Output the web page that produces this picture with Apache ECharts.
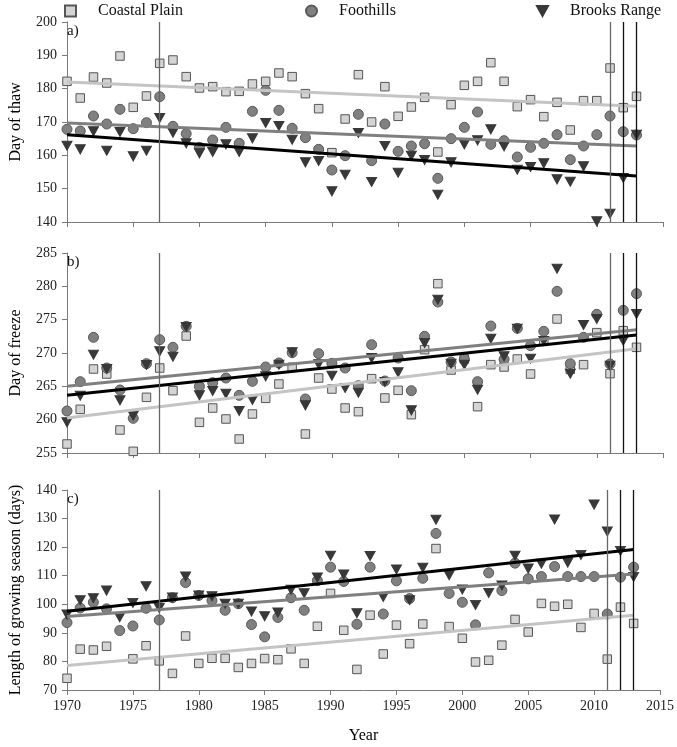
<!DOCTYPE html>
<html>
<head>
<meta charset="utf-8">
<script src="https://cdn.jsdelivr.net/npm/echarts@6/dist/echarts.min.js"></script>
<style>
html,body{margin:0;padding:0;background:#fff;}
#chart{width:677px;height:747px;}
</style>
</head>
<body>
<div id="chart"></div>
<script>
var years = [1970,1971,1972,1973,1974,1975,1976,1977,1978,1979,
             1980,1981,1982,1983,1984,1985,1986,1987,1988,1989,
             1990,1991,1992,1993,1994,1995,1996,1997,1998,1999,
             2000,2001,2002,2003,2004,2005,2006,2007,2008,2009,
             2010,2011,2012,2013];

var seriesNames = ['Coastal Plain', 'Foothills', 'Brooks Range'];

// a) Day of thaw
var thawCoastal = [182.2,177.2,183.5,181.7,189.8,174.4,177.8,187.6,188.6,183.6,
                   180.2,180.6,179.1,179.2,181.4,182.2,184.7,183.6,178.5,174.0,
                   160.8,170.9,184.2,170.0,180.6,171.7,174.5,177.4,161.0,175.2,
                   181.0,182.2,187.8,182.2,174.6,176.7,171.6,175.9,167.6,176.4,
                   176.4,186.2,174.3,177.7];
var thawFoothills = [167.8,167.3,171.8,169.4,173.8,168.0,169.8,177.6,168.7,166.5,
                     162.4,164.6,168.4,163.6,173.2,179.5,173.5,168.1,165.3,161.8,
                     155.6,159.9,172.3,158.4,169.4,161.2,162.8,163.5,153.1,165.0,
                     168.4,173.0,163.3,164.4,159.5,162.4,163.6,166.2,158.7,162.8,
                     166.2,171.8,167.1,166.1];
var thawBrooks = [162.9,161.8,167.2,161.4,167.0,159.7,161.4,171.2,166.8,163.6,
                  160.6,161.0,163.3,161.0,165.1,169.7,168.8,164.7,157.9,158.3,
                  149.2,154.2,166.7,152.0,162.8,154.8,159.9,158.6,148.2,157.9,
                  163.3,164.5,167.8,162.7,155.7,156.5,157.6,152.8,152.1,156.7,
                  140.2,142.5,153.2,166.2];

// b) Day of freeze
var freezeCoastal = [256.35,261.55,267.6,266.85,258.45,255.25,263.35,267.75,264.35,272.55,
                     259.6,261.75,260.1,257.1,260.85,263.2,265.35,267.85,257.85,266.25,
                     264.6,261.75,261.2,266.15,263.25,264.4,260.75,270.5,280.4,267.45,
                     269.1,261.95,268.25,267.9,269.1,266.85,271.75,275.1,267.55,268.25,
                     273.05,266.9,273.35,270.85];
var freezeFoothills = [261.3,265.7,272.35,267.75,264.45,260.2,268.4,272.0,270.85,274.0,
                       265.0,265.55,266.25,263.65,265.75,267.9,268.5,270.05,263.1,269.9,
                       268.45,267.75,265.1,271.25,265.8,269.25,264.35,272.5,277.65,268.65,
                       269.1,265.7,274.05,269.05,273.7,271.1,273.25,279.25,268.4,272.35,
                       275.8,268.35,276.4,278.9];
var freezeBrooks = [259.6,263.6,269.75,267.6,262.9,260.6,268.2,270.25,269.45,273.9,
                    263.65,264.3,263.9,261.3,262.95,266.5,268.25,270.1,262.15,268.3,
                    266.6,264.75,264.05,269.25,265.65,267.1,261.4,271.5,278.0,268.4,
                    268.25,264.5,272.15,269.5,273.65,269.15,271.8,282.65,266.9,274.2,
                    275.1,268.1,271.85,275.85];

// c) Length of growing season (days)
var seasonCoastal = [74.1,84.3,84.0,85.3,68.6,80.9,85.5,80.2,75.8,88.9,
                     79.3,81.1,81.1,77.9,79.3,81.0,80.6,84.4,79.3,92.3,
                     103.8,90.9,77.2,96.2,82.6,92.7,86.2,93.1,119.5,92.2,
                     88.1,79.8,80.4,85.7,94.7,90.3,100.3,99.3,100.0,91.9,
                     96.8,80.8,99.0,93.3];
var seasonFoothills = [93.6,98.7,100.7,98.4,90.8,92.4,98.6,94.5,102.3,107.6,
                       103.1,101.3,97.9,100.2,92.9,88.6,95.4,102.3,97.9,108.3,
                       113.0,108.0,93.0,113.0,96.6,108.2,102.0,109.1,124.8,103.8,
                       100.7,92.8,111.0,104.8,114.4,108.9,109.7,113.2,109.7,109.7,
                       109.7,96.6,109.5,113.0];
var seasonBrooks = [96.4,101.4,102.1,104.8,95.5,100.5,106.3,98.7,102.4,109.7,
                    103.1,102.8,100.2,100.2,97.5,95.8,97.1,105.1,103.9,109.4,
                    117.0,110.4,96.9,116.9,102.6,112.2,101.4,112.8,129.6,110.2,
                    105.2,99.8,104.0,106.6,117.0,112.5,114.2,129.7,114.6,117.3,
                    134.9,125.5,118.7,109.6];

// Trend lines (values at start and end year)
var trendYears = [1970, 2013];
var trendThawCoastal = [182.0, 174.7];
var trendThawFoothills = [169.7, 162.8];
var trendThawBrooks = [166.2, 153.8];
var trendFreezeCoastal = [260.25, 270.65];
var trendFreezeFoothills = [265.0, 273.5];
var trendFreezeBrooks = [263.65, 272.7];
var trendSeasonCoastal = [78.6, 96.2];
var trendSeasonFoothills = [95.7, 110.6];
var trendSeasonBrooks = [97.6, 119.2];

// Vertical reference years
var refYears = [1977, 2011, 2012, 2013];

var panelLabels = ['a)', 'b)', 'c)'];
var yNames = ['Day of thaw', 'Day of freeze', 'Length of growing season (days)'];
var xName = 'Year';

var SERIF = '"Liberation Serif", "DejaVu Serif", serif';
var tri = 'path://M0,0 L10,0 L5,9 Z';

var styles = [
  {symbol: 'rect', size: 8.5, color: '#d4d4d4', border: '#555555', trend: '#c4c4c4'},
  {symbol: 'circle', size: 10, color: '#808080', border: '#595959', trend: '#7f7f7f'},
  {symbol: tri, size: [10, 9], color: '#383838', border: '#383838', trend: '#000000'}
];

var panelData = [
  [thawCoastal, thawFoothills, thawBrooks],
  [freezeCoastal, freezeFoothills, freezeBrooks],
  [seasonCoastal, seasonFoothills, seasonBrooks]
];
var panelTrends = [
  [trendThawCoastal, trendThawFoothills, trendThawBrooks],
  [trendFreezeCoastal, trendFreezeFoothills, trendFreezeBrooks],
  [trendSeasonCoastal, trendSeasonFoothills, trendSeasonBrooks]
];
var yRanges = [
  {min: 140, max: 200, interval: 10},
  {min: 255, max: 285, interval: 5},
  {min: 70, max: 140, interval: 10}
];
var gridTops = [22, 253, 490];

function zip(xs, ys) {
  var out = [];
  for (var i = 0; i < xs.length; i++) out.push([xs[i], ys[i]]);
  return out;
}

var grids = [], xAxes = [], yAxes = [], series = [], graphics = [];
for (var p = 0; p < 3; p++) {
  grids.push({left: 63, top: gridTops[p], width: 600, height: 200, containLabel: false});
  xAxes.push({
    type: 'value', gridIndex: p, min: 1970, max: 2015, interval: 5,
    name: p === 2 ? xName : '', nameLocation: 'middle', nameGap: 38,
    nameTextStyle: {fontFamily: SERIF, fontSize: 16, color: '#000'},
    axisLine: {show: true, onZero: false, lineStyle: {color: '#7a7a7a', width: 1}},
    axisTick: {show: true, inside: false, length: 5, lineStyle: {color: '#7a7a7a'}},
    axisLabel: {show: p === 2, fontFamily: SERIF, fontSize: 14, color: '#222', margin: 9,
                formatter: function (v) { return String(v); }},
    splitLine: {show: false}
  });
  yAxes.push({
    type: 'value', gridIndex: p, min: yRanges[p].min, max: yRanges[p].max, interval: yRanges[p].interval,
    name: yNames[p], nameLocation: 'middle', nameGap: 43, nameRotate: 90,
    nameTextStyle: {fontFamily: SERIF, fontSize: 16, color: '#000'},
    axisLine: {show: true, onZero: false, lineStyle: {color: '#7a7a7a', width: 1}},
    axisTick: {show: true, inside: false, length: 5, lineStyle: {color: '#7a7a7a'}},
    axisLabel: {fontFamily: SERIF, fontSize: 14, color: '#222', margin: 10},
    splitLine: {show: false}
  });
  for (var s = 0; s < 3; s++) {
    var st = styles[s];
    series.push({
      name: seriesNames[s], type: 'scatter', xAxisIndex: p, yAxisIndex: p,
      symbol: st.symbol, symbolSize: st.size, clip: true,
      itemStyle: {color: st.color, borderColor: st.border, borderWidth: 1, opacity: 1},
      data: zip(years, panelData[p][s]), z: 2 + s * 0.1
    });
  }
  for (var s2 = 0; s2 < 3; s2++) {
    var ser = {
      name: 'trend' + p + s2, type: 'line', xAxisIndex: p, yAxisIndex: p,
      showSymbol: false, symbol: 'none', silent: true,
      lineStyle: {color: styles[s2].trend, width: 3},
      data: zip(trendYears, panelTrends[p][s2]), z: 4
    };
    if (s2 === 2) {
      ser.markLine = {
        symbol: 'none', silent: true, label: {show: false},
        animation: false,
        data: refYears.map(function (yr, i) {
          return {xAxis: yr, lineStyle: {color: i < 2 ? '#666666' : '#111111', width: 1.3, type: 'solid'}};
        })
      };
    }
    series.push(ser);
  }
  graphics.push({
    type: 'text', left: 67, top: gridTops[p] + 2, z: 100,
    style: {text: panelLabels[p], font: '15px ' + SERIF, fill: '#111'}
  });
}

var legendBase = {
  top: -2, itemWidth: 11, itemHeight: 11, itemGap: 0,
  textStyle: {fontFamily: SERIF, fontSize: 16, color: '#111', padding: [0, 0, 0, 17]},
  selectedMode: false
};
var legends = [
  Object.assign({}, legendBase, {left: 59, data: [seriesNames[0]]}),
  Object.assign({}, legendBase, {left: 300, data: [seriesNames[1]]}),
  Object.assign({}, legendBase, {left: 531, data: [seriesNames[2]]})
];

var chart = echarts.init(document.getElementById('chart'), null, {renderer: 'canvas'});
chart.setOption({
  animation: false,
  backgroundColor: '#ffffff',
  legend: legends,
  grid: grids,
  xAxis: xAxes,
  yAxis: yAxes,
  series: series,
  graphic: graphics
});
</script>
</body>
</html>
